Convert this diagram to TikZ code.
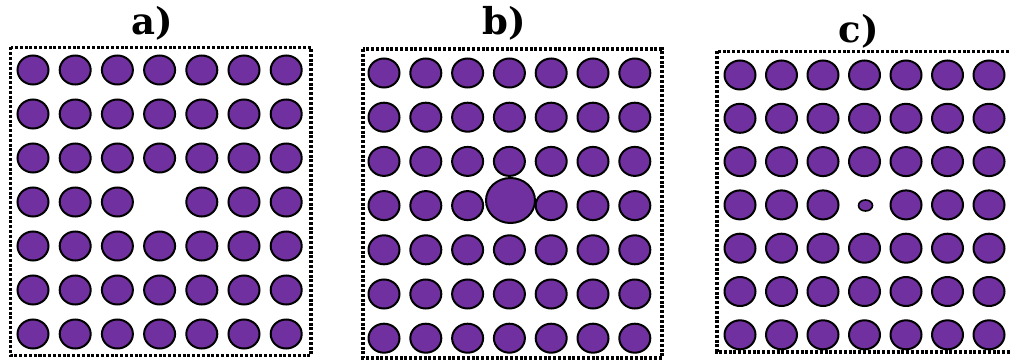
\documentclass[tikz,border=0pt]{standalone}
\usepackage{fontspec}
\newfontfamily\lblfont{DejaVu Serif}
\usetikzlibrary{shapes.geometric}
\definecolor{atomfill}{HTML}{7030A0}
\tikzset{
  atom/.style={ellipse, draw=black, line width=2pt, fill=atomfill,
    minimum width=31pt, minimum height=29pt, inner sep=0pt},
  frame/.style={draw=black, line width=3.2pt, dash pattern=on 3pt off 1.8pt},
  lbl/.style={font=\lblfont\bfseries\fontsize{37}{37}\selectfont, anchor=base, inner sep=0pt}
}
\begin{document}
\begin{tikzpicture}[x=1pt,y=-1pt]
\useasboundingbox (0,0) rectangle (1011,361);
% frames
\draw[frame] (10.5,47.5) rectangle (311,355.5);
\draw[frame] (363,49) rectangle (662,358);
\draw[frame] (717,51.5) rectangle (1016,352);
% labels
\node[lbl] (la) at (152,35) {a)};
\node[lbl] (lb) at (504,35) {b)};
\node[lbl] (lc) at (859,42) {c)};
% panel a: vacancy
\foreach \c in {0,...,6} \foreach \r in {0,...,6} {
  \pgfmathsetmacro\x{33+42.2*\c}
  \pgfmathsetmacro\y{70+44*\r}
  \pgfmathtruncatemacro\k{\c*10+\r}
  \ifnum\k=33 \else \node[atom] (a-\c-\r) at (\x,\y) {}; \fi
}
% panel b: large atom
\foreach \c in {0,...,6} \foreach \r in {0,...,6} {
  \pgfmathsetmacro\x{384+41.8*\c}
  \pgfmathsetmacro\y{73+44.2*\r}
  \pgfmathtruncatemacro\k{\c*10+\r}
  \ifnum\k=33 \else \node[atom] (b-\c-\r) at (\x,\y) {}; \fi
}
\node[atom, minimum width=49pt, minimum height=45pt] (b-3-3) at (510.5,200.5) {};
% panel c: small atom
\foreach \c in {0,...,6} \foreach \r in {0,...,6} {
  \pgfmathsetmacro\x{740+41.5*\c}
  \pgfmathsetmacro\y{75+43.3*\r}
  \pgfmathtruncatemacro\k{\c*10+\r}
  \ifnum\k=33 \else \node[atom] (c-\c-\r) at (\x,\y) {}; \fi
}
\node[atom, minimum width=14pt, minimum height=11pt, line width=1.6pt] (c-3-3) at (865.5,205.5) {};
\end{tikzpicture}
\end{document}
